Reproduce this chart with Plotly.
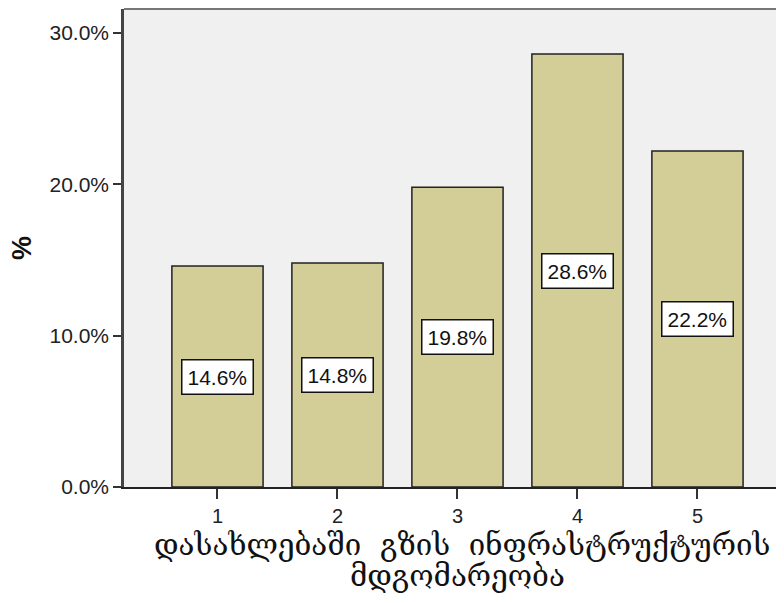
import plotly.graph_objects as go

categories = ["1", "2", "3", "4", "5"]
values = [14.6, 14.8, 19.8, 28.6, 22.2]
y_ticks = [0, 10, 20, 30]
y_tick_labels = ["0.0%", "10.0%", "20.0%", "30.0%"]
x_title_lines = ["დასახლებაში  გზის  ინფრასტრუქტურის", "მდგომარეობა"]
y_title = "%"

xs = [i + 1 for i in range(len(categories))]

fig = go.Figure()
fig.add_trace(go.Bar(
    x=xs, y=values, width=0.76,
    marker=dict(color="#D3CE97", line=dict(color="#222222", width=1.5)),
    hoverinfo="skip",
))

for x, v in zip(xs, values):
    fig.add_annotation(
        x=x, y=v / 2, text=f"{v:.1f}%", showarrow=False,
        font=dict(family="Liberation Sans, Arial", size=21, color="#111111"),
        bgcolor="white", bordercolor="#111111", borderwidth=1.5, borderpad=5,
    )

# axis titles as annotations
fig.add_annotation(xref="paper", yref="paper", x=0.512, y=-0.121, yanchor="middle",
                   xanchor="center",
                   text=x_title_lines[0], showarrow=False,
                   font=dict(family="DejaVu Serif", size=29.5, color="#111111"))
fig.add_annotation(xref="paper", yref="paper", x=0.506, y=-0.187, yanchor="middle",
                   xanchor="center",
                   text=x_title_lines[1], showarrow=False,
                   font=dict(family="DejaVu Serif", size=29.5, color="#111111"))
fig.add_annotation(xref="paper", yref="paper", x=-0.1545, y=0.5, textangle=-90,
                   xanchor="center", yanchor="middle",
                   text="<b>" + y_title + "</b>", showarrow=False,
                   font=dict(family="Liberation Sans, Arial", size=27, color="#111111"))

# top border of plot area
fig.add_shape(type="line", xref="paper", yref="paper", x0=0, x1=1, y0=1, y1=1,
              line=dict(color="#777777", width=2))

# the page body has an 8px margin, so the figure is sized to fill the window from there
fig.update_layout(
    width=776, height=595,
    margin=dict(l=116, r=0, t=1, b=116),
    paper_bgcolor="white", plot_bgcolor="#F0F0F0",
    showlegend=False,
    xaxis=dict(
        range=[0.221, 5.721], tickvals=xs, ticktext=categories,
        ticks="outside", ticklen=10, tickwidth=2, tickcolor="#333333",
        showline=True, linecolor="#222222", linewidth=2,
        showgrid=False, zeroline=False, automargin=False,
        tickfont=dict(family="Liberation Sans, Arial", size=20, color="#222222"),
    ),
    yaxis=dict(
        range=[0, 31.58], tickvals=y_ticks, ticktext=y_tick_labels,
        ticks="outside", ticklen=8, tickwidth=2, tickcolor="#333333",
        showline=True, linecolor="#444444", linewidth=2.5,
        showgrid=False, zeroline=False, automargin=False,
        tickfont=dict(family="Liberation Sans, Arial", size=21, color="#222222"),
    ),
)

fig.write_html("out.html")
